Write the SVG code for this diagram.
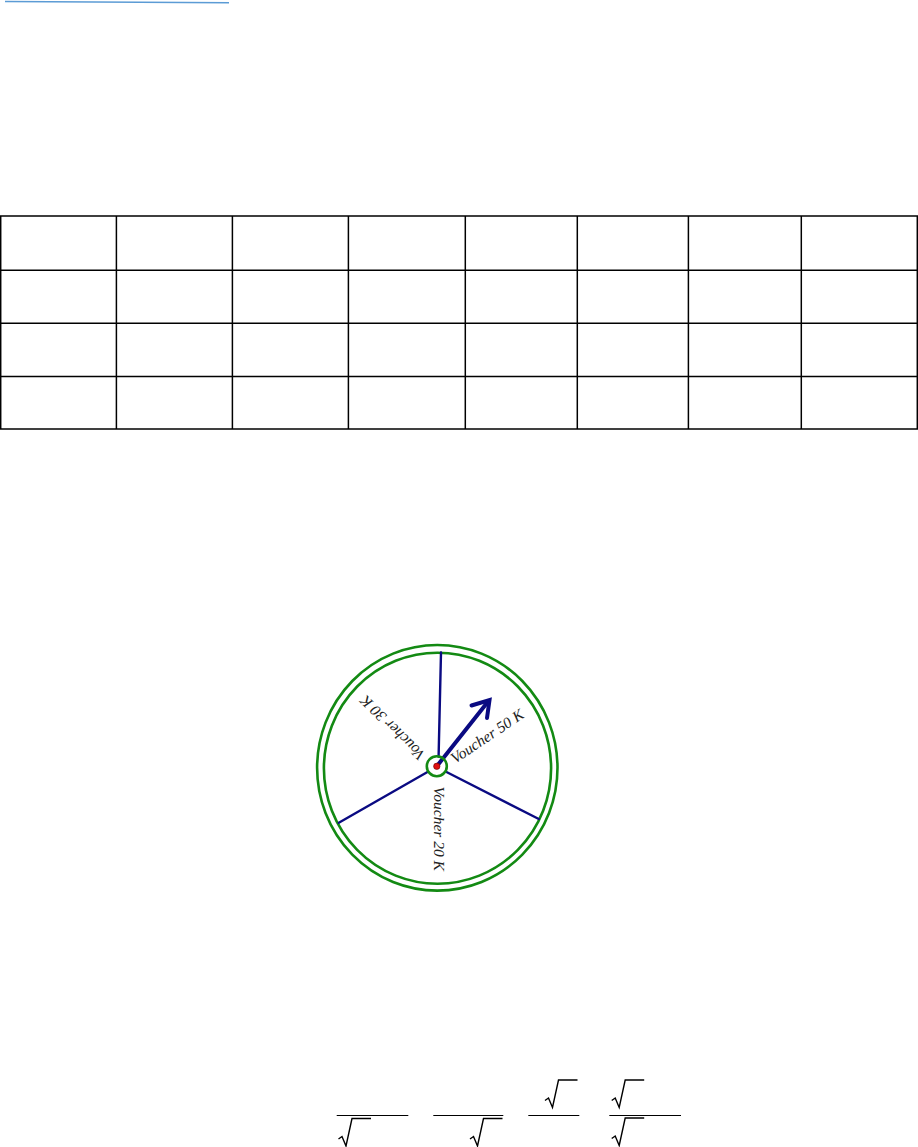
<svg xmlns="http://www.w3.org/2000/svg" width="918" height="1147" viewBox="0 0 918 1147">
  <defs>
    <style>
      .grid { stroke: #000; stroke-width: 1.5; fill: none; }
      .rim { fill: none; stroke: #138a13; stroke-width: 2.6; }
      .spoke { stroke: #0a0a82; stroke-width: 2.4; fill: none; stroke-linecap: round; }
      .lbl { font-family: "Liberation Serif", "Times New Roman", serif; font-style: italic; font-size: 15.5px; fill: #222; }
      .frac { stroke: #000; stroke-width: 1.1; fill: none; }
      .rad { stroke: #000; stroke-width: 1.4; fill: none; stroke-linejoin: miter; }
    </style>
    <path id="radical" d="M0,0 L3.5,-2.5 L7.5,7 L13.5,-20.5 H32.5" />
  </defs>
  <rect width="918" height="1147" fill="#fff"/>

  <g id="top-rule">
    <line x1="5" y1="1.5" x2="229" y2="2.8" stroke="#5b9bd5" stroke-width="1.4"/>
  </g>

  <g id="table" class="grid">
    <rect x="0.7" y="216" width="916.6" height="213"/>
    <line x1="0.7" y1="270.2" x2="917.3" y2="270.2"/>
    <line x1="0.7" y1="323.3" x2="917.3" y2="323.3"/>
    <line x1="0.7" y1="376.4" x2="917.3" y2="376.4"/>
    <line x1="116.4" y1="216" x2="116.4" y2="429"/>
    <line x1="232.4" y1="216" x2="232.4" y2="429"/>
    <line x1="348.4" y1="216" x2="348.4" y2="429"/>
    <line x1="465.3" y1="216" x2="465.3" y2="429"/>
    <line x1="577.3" y1="216" x2="577.3" y2="429"/>
    <line x1="688.4" y1="216" x2="688.4" y2="429"/>
    <line x1="801.3" y1="216" x2="801.3" y2="429"/>
  </g>

  <g id="wheel">
    <ellipse class="rim" cx="437.3" cy="767.8" rx="120.2" ry="122.8"/>
    <ellipse class="rim" cx="437.5" cy="768.2" rx="113.6" ry="115.5"/>
    <g id="spokes">
      <line class="spoke" x1="441" y1="652.5" x2="438.6" y2="756.5"/>
      <line class="spoke" x1="338.8" y1="822.8" x2="427.5" y2="772"/>
      <line class="spoke" x1="446.5" y1="772" x2="538.8" y2="819"/>
    </g>
    <g id="pointer" stroke="#0a0a82" stroke-width="4" fill="none" stroke-linecap="round" stroke-linejoin="miter">
      <line x1="437" y1="766" x2="488.5" y2="701"/>
      <polyline points="471.5,705.5 489.5,700 487,718"/>
    </g>
    <g id="hub">
      <circle cx="436.8" cy="766.2" r="10" fill="none" stroke="#138a13" stroke-width="2.6"/>
      <circle cx="436.8" cy="766.3" r="3.2" fill="#e01010" stroke="#600" stroke-width="0.6"/>
    </g>
    <g id="labels">
      <text class="lbl" transform="translate(455,764) rotate(-33.8)">Voucher 50 K</text>
      <text class="lbl" transform="translate(433.5,786.5) rotate(90)">Voucher 20 K</text>
      <text class="lbl" transform="translate(426,754) rotate(225)">Voucher 30 K</text>
    </g>
  </g>

  <g id="fractions">
    <line class="frac" x1="336.7" y1="1115.5" x2="408.3" y2="1115.5"/>
    <line class="frac" x1="433.3" y1="1115.5" x2="503.3" y2="1115.5"/>
    <line class="frac" x1="528.3" y1="1115.5" x2="579.3" y2="1115.5"/>
    <line class="frac" x1="609.3" y1="1115.5" x2="681" y2="1115.5"/>
    <use href="#radical" class="rad" transform="translate(338.5,1139)"/>
    <use href="#radical" class="rad" transform="translate(470,1139)"/>
    <use href="#radical" class="rad" transform="translate(545,1100.5)"/>
    <use href="#radical" class="rad" transform="translate(611.7,1100.5)"/>
    <use href="#radical" class="rad" transform="translate(611.7,1138.5)"/>
  </g>
</svg>
